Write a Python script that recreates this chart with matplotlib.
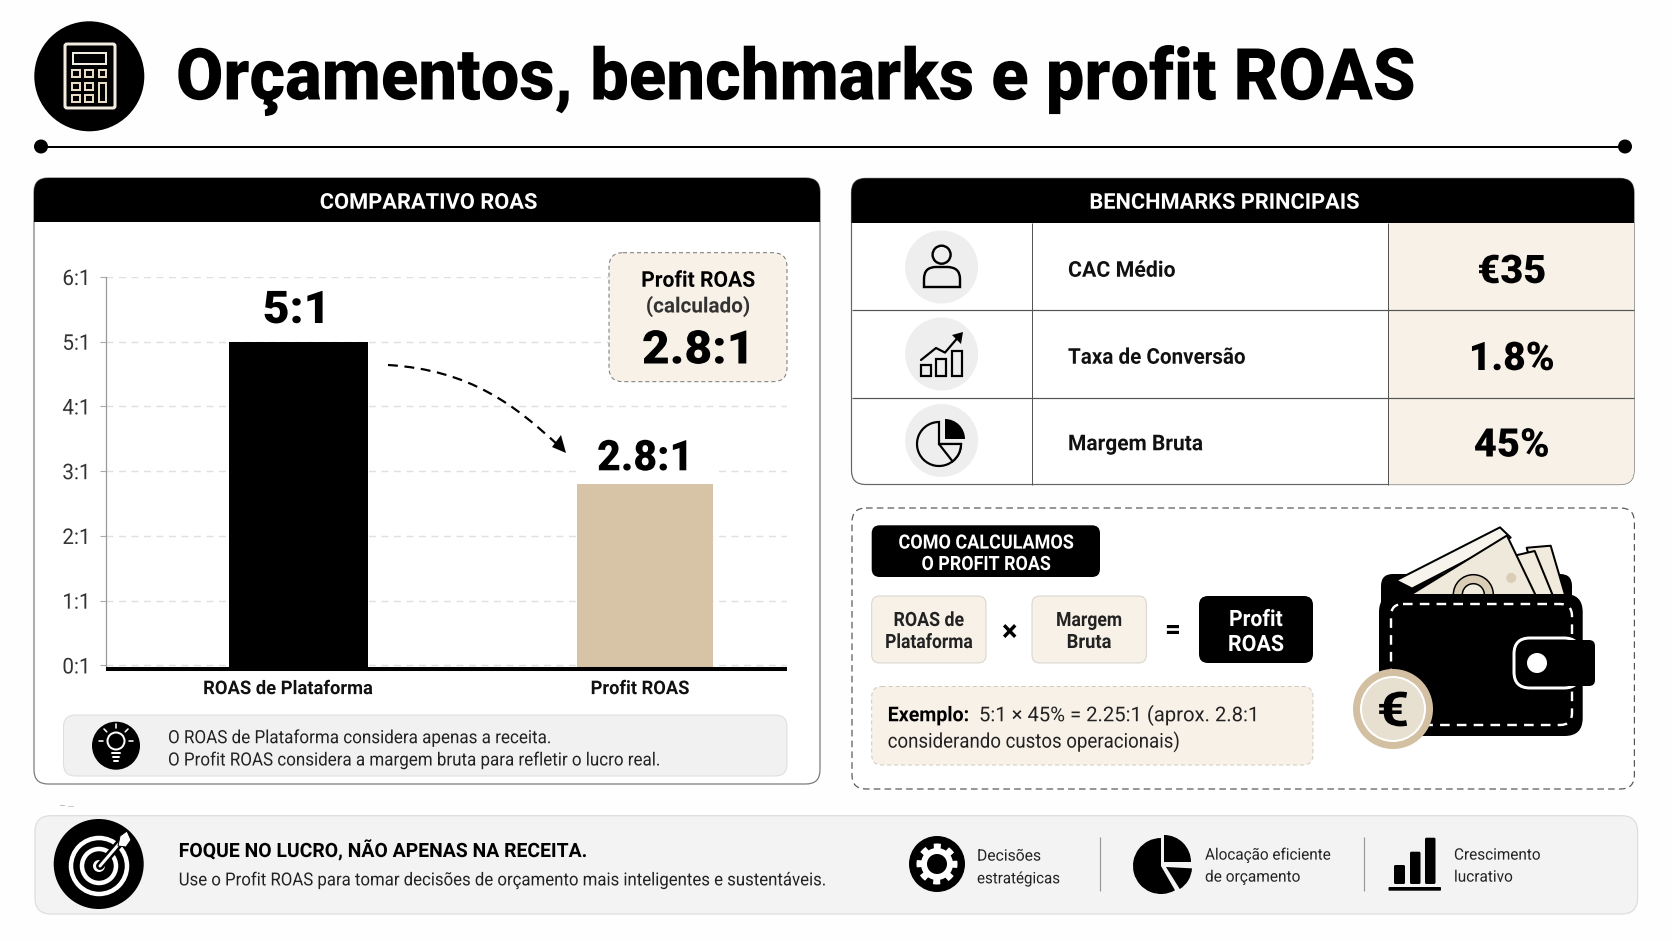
import numpy as np
import matplotlib
matplotlib.use("Agg")
import matplotlib.pyplot as plt
from matplotlib.patches import FancyBboxPatch, Rectangle, Circle, Wedge, Polygon, PathPatch
from matplotlib.path import Path
from matplotlib.patheffects import AbstractPathEffect
from matplotlib.textpath import TextPath
from matplotlib.font_manager import FontProperties
from matplotlib.transforms import Affine2D, ScaledTranslation

categories = ["ROAS de Plataforma", "Profit ROAS"]
roas_values = [5.0, 2.8]
bar_labels = ["5:1", "2.8:1"]
bar_colors = ["#000000", "#D7C4A6"]
y_ticks = [0, 1, 2, 3, 4, 5, 6]
y_labels = ["0:1", "1:1", "2:1", "3:1", "4:1", "5:1", "6:1"]
bench_labels = ["CAC Médio", "Taxa de Conversão", "Margem Bruta"]
bench_values = ["€35", "1.8%", "45%"]

W, H = 1672, 941
BLK, CREAM, GRAY = "#000000", "#F7F1E8", "#F3F3F3"
FONT = "Roboto"

plt.rcParams["font.family"] = [FONT, "DejaVu Sans"]
fig = plt.figure(figsize=(W / 100, H / 100), dpi=100, facecolor="#FEFEFE")


class Squeeze(AbstractPathEffect):
    """Narrows drawn glyphs around a fixed pixel column; the artist stays text."""

    def __init__(self, sx, x_px):
        super().__init__()
        self.sx, self.x_px = sx, x_px

    def draw_path(self, renderer, gc, tpath, affine, rgbFace=None):
        aff = affine + Affine2D().translate(-self.x_px, 0).scale(self.sx, 1).translate(self.x_px, 0)
        renderer.draw_path(gc, tpath, aff, rgbFace)


def px_axes(z):
    a = fig.add_axes([0, 0, 1, 1], zorder=z)
    a.set_xlim(0, W)
    a.set_ylim(H, 0)
    a.axis("off")
    return a


bg = px_axes(0)
fg = px_axes(5)


def lw(p):
    return p * 0.72


def squeeze_for(s, pt, w, weight):
    fp = FontProperties(family=FONT, weight=weight)
    box = TextPath((0, 0), s, size=100, prop=fp).get_extents()
    return (w * 0.72) / (box.width / 100 * pt)


def fit(a, s, x, y, w, cap, weight="normal", color="k", ha="left", **kw):
    """Text with cap height `cap` px, centred on y, drawn w px wide."""
    pt = cap / 0.711 * 0.72
    t = a.text(x, y + cap / 2, s, fontsize=pt, family=[FONT, "DejaVu Sans"], weight=weight,
               color=color, ha=ha, va="baseline", **kw)
    t.set_path_effects([Squeeze(squeeze_for(s, pt, w, weight), x)])
    return t


def rbox(a, x0, y0, x1, y1, r, fc="none", ec="none", l=1.0, ls="-", z=1):
    p = FancyBboxPatch((x0, y0), x1 - x0, y1 - y0, boxstyle=f"round,pad=0,rounding_size={r}",
                       fc=fc, ec=ec, lw=lw(l), ls=ls, zorder=z)
    a.add_patch(p)
    return p


def line(a, xs, ys, c="k", l=2, z=3, **kw):
    a.plot(xs, ys, color=c, lw=lw(l), zorder=z, solid_capstyle=kw.pop("cap", "round"), **kw)


def circ(a, x, y, r, fc="k", ec="none", l=1, z=3):
    a.add_patch(Circle((x, y), r, fc=fc, ec=ec, lw=lw(l), zorder=z))


DASH = (0, (4, 3))

# ---------- header ----------
circ(bg, 89.3, 76.3, 55)
rbox(bg, 65, 44, 115, 108, 2, fc="k", ec="#F3EDE1", l=3, z=4)
bg.add_patch(Rectangle((72.5, 53), 33, 10.5, fc="k", ec="#F3EDE1", lw=lw(2), zorder=5))
for kx in (72, 85, 98.7):
    for ky in (70, 83, 95):
        if kx == 98.7 and ky > 70:
            continue
        bg.add_patch(Rectangle((kx, ky), 7.5, 6.5, fc="k", ec="#E8DCC4", lw=lw(2), zorder=5))
bg.add_patch(Rectangle((98.7, 83), 7, 19, fc="k", ec="#E8DCC4", lw=lw(2), zorder=5))
fit(bg, "Orçamentos, benchmarks e profit ROAS", 176, 74, 1235, 51, weight=900)
line(bg, [41, 1625], [146.5, 146.5], l=2)
circ(bg, 41, 146.5, 7)
circ(bg, 1625, 146.5, 7)

# ---------- left panel ----------
left = rbox(bg, 34, 178, 820, 784, 14, fc="white", ec="#777777", l=1.2)
hd = rbox(bg, 34, 178, 820, 260, 14, fc="k", z=2)
hd.set_clip_path(Rectangle((0, 0), W, 222, transform=bg.transData))
fit(bg, "COMPARATIVO ROAS", 428, 201, 216, 15.5, weight="bold", color="white", ha="center", zorder=3)

# chart axes: pixel box converted to figure fractions
ax_l, ax_r, ax_t, ax_b = 106, 786.7, 277, 669
y_floor = -0.055
ax = fig.add_axes([ax_l / W, 1 - ax_b / H, (ax_r - ax_l) / W, (ax_b - ax_t) / H], zorder=2)
ax.patch.set_alpha(0)
xs = np.arange(len(categories))
ax.bar(xs, np.array(roas_values) - y_floor, bottom=y_floor, width=[0.4, 0.393], color=bar_colors, zorder=3)
ax.set_xlim(-0.556, 1.408)
ax.set_ylim(y_floor, 6)
ax.set_yticks(y_ticks, y_labels, fontsize=15.6, color="#333333")
ax.set_xticks(xs, categories, fontsize=13.6, weight="bold", color="#111111")
ax.tick_params(axis="y", length=4.3, width=0.8, color="#AAAAAA", pad=7)
ax.tick_params(axis="x", length=0, pad=8)
for lab in ax.get_yticklabels():
    lab.set_path_effects([Squeeze(0.95, 90)])
for lab, dx, cx, wd in zip(ax.get_xticklabels(), (-10.7, -5.3), (288, 640), (168, 97)):
    lab.set_transform(lab.get_transform() + ScaledTranslation(dx / 100, 0, fig.dpi_scale_trans))
    lab.set_path_effects([Squeeze(squeeze_for(lab.get_text(), 13.6, wd, "bold"), cx)])
ax.grid(axis="y", color="#E0E0E0", lw=1.0, ls=(0, (5, 4)), zorder=0)
ax.set_axisbelow(True)
for s in ("top", "right"):
    ax.spines[s].set_visible(False)
ax.spines["left"].set_color("#999999")
ax.spines["left"].set_linewidth(0.9)
ax.spines["bottom"].set_color("k")
ax.spines["bottom"].set_linewidth(2.9)
ax.spines["bottom"].set_capstyle("butt")
ax.spines["bottom"].set_zorder(4)
# the gridline at 3:1 breaks around the second bar's label
ax.add_patch(Rectangle((578, 465), 137, 11, fc="white", ec="none", transform=bg.transData, zorder=1.5))
label_spec = zip(xs, roas_values, bar_labels, (32.5, 30.5), ((-1.5, 7), (0, 3.5)), (296, 645), (58, 88))
for x, v, t, size, off, cx, wd in label_spec:
    an = ax.annotate(t, (x, v), xytext=off, textcoords="offset points", ha="center", va="bottom",
                     fontsize=size, weight=900, family=[FONT, "DejaVu Sans"], zorder=5)
    an.set_path_effects([Squeeze(squeeze_for(t, size, wd, 900), cx)])

# callout
rbox(fg, 609, 252.7, 787, 381.7, 14, fc=CREAM, ec="#777777", l=1, ls=DASH)
fit(fg, "Profit ROAS", 698, 279, 112, 15.5, weight="bold", ha="center")
fit(fg, "(calculado)", 698, 305, 102, 15, ha="center", weight="bold", color="#333333")
fit(fg, "2.8:1", 698, 347, 103, 33, weight=900, ha="center")

# dashed curve + head
curve = Path([(388, 365), (470, 370), (515, 405), (560, 447)], [Path.MOVETO, Path.CURVE4, Path.CURVE4, Path.CURVE4])
fg.add_patch(PathPatch(curve, fc="none", ec="k", lw=lw(2.2), ls=(0, (4.5, 3))))
fg.add_patch(Polygon([(566, 453), (552, 447), (561, 435)], fc="k", ec="none"))

# note box
rbox(bg, 63.5, 715, 787, 776, 12, fc="#F1F1F1", ec="#DDDDDD", l=1, z=2)
circ(fg, 116, 745.7, 24)
circ(fg, 116, 741, 8.5, fc="none", ec="white", l=2)
line(fg, [112, 120], [753, 753], c="white", l=2)
line(fg, [113, 119], [757, 757], c="white", l=2)
line(fg, [114, 118], [761, 761], c="white", l=2)
for a0 in (180, 225, 270, 315, 0):
    t = np.radians(a0)
    line(fg, [116 + 13 * np.cos(t), 116 + 17 * np.cos(t)], [741 + 13 * np.sin(t), 741 + 17 * np.sin(t)], c="white", l=1.6)
fit(fg, "O ROAS de Plataforma considera apenas a receita.", 168, 736.7, 381, 13, color="#222222")
fit(fg, "O Profit ROAS considera a margem bruta para refletir o lucro real.", 168, 759, 490, 13, color="#222222")
line(bg, [60, 64], [805, 805], c="#BBBBBB", l=1)
line(bg, [68, 73], [806, 806], c="#CCCCCC", l=1)

# ---------- table ----------
table = rbox(bg, 851.5, 178.4, 1634, 484.5, 14, fc="white", ec="#666666", l=1.2)
vcell = Rectangle((1388, 223), 246, 262, fc=CREAM, ec="none", zorder=1.5)
bg.add_patch(vcell)
vcell.set_clip_path(table)
hd2 = rbox(bg, 851.5, 178.4, 1634, 260, 14, fc="k", z=2)
hd2.set_clip_path(Rectangle((0, 0), W, 223, transform=bg.transData))
fit(bg, "BENCHMARKS PRINCIPAIS", 1224, 201, 268, 15.5, weight="bold", color="white", ha="center", zorder=3)
for y in (310, 397.6):
    line(bg, [851.5, 1634], [y, y], c="#555555", l=1.2, z=2.5, cap="butt")
for x in (1032, 1388):
    line(bg, [x, x], [223, 484.5], c="#555555", l=1.0, z=2.5, cap="butt")
row_y = [269, 356, 442.5]
lab_w = [106, 176.5, 133]
val_w = [65.6, 81, 73]
for y, t, lw_, v, vw in zip(row_y, bench_labels, lab_w, bench_values, val_w):
    circ(bg, 941.6, y - 2, 36.5, fc="#EEEEEE", z=2.6)
    fit(bg, t, 1068, y, lw_, 15.5, weight="bold", zorder=3, color="#111111")
    fit(bg, v, 1511.7, y, vw, 28, weight=900, ha="center", zorder=3)
# person icon
circ(bg, 941.6, 254.7, 9, fc="none", ec="k", l=2.4, z=4)
body = Path([(924, 287), (924, 279), (924, 267), (936, 267), (947, 267), (960, 267), (960, 279), (960, 287), (924, 287)],
            [Path.MOVETO, Path.LINETO, Path.CURVE3, Path.CURVE3, Path.LINETO, Path.CURVE3, Path.CURVE3, Path.LINETO, Path.CLOSEPOLY])
bg.add_patch(PathPatch(body, fc="none", ec="k", lw=lw(2.4), zorder=4))
# growth icon
for x0, x1, y0 in ((921, 931, 365), (936, 946.4, 359), (951.7, 962, 350.6)):
    bg.add_patch(Rectangle((x0, y0), x1 - x0, 376 - y0, fc="none", ec="k", lw=lw(2.2), zorder=4))
line(bg, [921, 936, 945, 960], [360, 348, 352.6, 335], l=2.2, z=4)
bg.add_patch(Polygon([(963, 332), (952, 335), (961, 344)], fc="k", zorder=4))
# pie outline icon
bg.add_patch(Wedge((939, 444), 22, 0, 270, fc="none", ec="k", lw=lw(2.2), zorder=4))
bg.add_patch(Wedge((945, 439), 20, 270, 360, fc="k", ec="none", zorder=5))
bg.add_patch(Wedge((939, 444), 22, 0, 52, fc="#EEEEEE", ec="k", lw=lw(2.2), zorder=4))

# ---------- formula box ----------
rbox(bg, 852, 508, 1634.4, 789, 14, fc="white", ec="#555555", l=1.2, ls=(0, (5.5, 3.5)))
rbox(bg, 871.7, 525.3, 1100, 577, 8, fc="k", z=2)
fit(bg, "COMO CALCULAMOS", 986, 541.6, 174, 14, weight="bold", color="white", ha="center", zorder=3)
fit(bg, "O PROFIT ROAS", 986, 563, 128, 14, weight="bold", color="white", ha="center", zorder=3)
rbox(bg, 871.7, 596, 986, 663, 8, fc=CREAM, ec="#D9D4CB", l=1, z=2)
rbox(bg, 1032, 596, 1146.4, 663, 8, fc=CREAM, ec="#D9D4CB", l=1, z=2)
rbox(bg, 1199, 596, 1313, 663, 9, fc="k", z=2)
fit(bg, "ROAS de", 928.8, 619, 69, 14, weight="bold", ha="center", zorder=3, color="#222222")
fit(bg, "Plataforma", 928.8, 641, 86, 14, weight="bold", ha="center", zorder=3, color="#222222")
fit(bg, "Margem", 1089, 619, 64, 14, weight="bold", ha="center", zorder=3, color="#222222")
fit(bg, "Bruta", 1089, 641, 43, 14, weight="bold", ha="center", zorder=3, color="#222222")
fit(bg, "Profit", 1256, 618, 52, 16, weight="bold", color="white", ha="center", zorder=3)
fit(bg, "ROAS", 1256, 643, 54, 16, weight="bold", color="white", ha="center", zorder=3)
bg.text(1009, 633, "×", fontsize=21, weight="bold", ha="center", va="center", zorder=3)
bg.text(1172.5, 630.6, "=", fontsize=20, weight="bold", ha="center", va="center", zorder=3)
rbox(bg, 871.7, 686.5, 1313, 765, 10, fc=CREAM, ec="#CFCAC0", l=1, ls=DASH, z=2)
fit(bg, "Exemplo:", 887.7, 714, 79, 14.5, weight="bold", zorder=3)
fit(bg, "5:1 × 45% = 2.25:1 (aprox. 2.8:1", 979, 714, 274.6, 14.5, zorder=3, color="#222222")
fit(bg, "considerando custos operacionais)", 887.7, 740.4, 290, 14.5, zorder=3, color="#222222")


# ---------- wallet ----------
def uv(u, v):
    return (836 + u / 1.875, 160 + v / 2.45)


rbox(bg, 1381, 574, 1572, 640, 12, fc="k", z=2)
notes = [
    ([(1295, 950), (1340, 945), (1368, 1070), (1320, 1070)], "#F1EBDD"),
    ([(1270, 970), (1310, 958), (1345, 1070), (1300, 1070)], "#F1EBDD"),
    ([(1050, 1030), (1245, 900), (1265, 925), (1080, 1050)], "#F7F4EC"),
    ([(1065, 1075), (1258, 920), (1315, 1075)], "#EFE9DB"),
]
for pts, col in notes:
    bg.add_patch(Polygon([uv(*p) for p in pts], fc=col, ec="k", lw=lw(2), joinstyle="round", zorder=2.2))
circ(bg, *uv(1195, 1065), 20, fc="#D9CDB5", ec="k", l=1.5, z=2.3)
circ(bg, *uv(1195, 1065), 11, fc="#F1EBDD", ec="k", l=1.5, z=2.35)
circ(bg, *uv(1266, 1024), 5, fc="#D9CDB5", z=2.3)
rbox(bg, 1379, 594, 1582.7, 736, 18, fc="k", z=2.5)
rbox(bg, 1391, 604, 1572, 725, 12, ec="white", l=2.4, ls=(0, (4, 3)), z=2.6)
rbox(bg, 1514, 638, 1580, 688, 16, fc="k", ec="white", l=3, z=2.7)
rbox(bg, 1550, 640, 1595, 686, 6, fc="k", z=2.8)
circ(bg, 1537, 663, 10, fc="white", z=2.9)
circ(bg, 1393, 709, 40, fc="#D3C0A2", z=3)
circ(bg, 1393, 709, 32, fc="#E7DFD0", ec="white", l=2, z=3.1)
fit(bg, "€", 1393, 709, 28, 34, weight="bold", ha="center", zorder=3.2)

# ---------- bottom banner ----------
rbox(bg, 35, 815.7, 1637.6, 914, 16, fc=GRAY, ec="#DDDDDD", l=1.2, z=1)
circ(bg, 98.7, 864, 45)
for r in (28, 17):
    circ(bg, 99, 866, r, fc="none", ec="white", l=4.5, z=3.2)
circ(bg, 99, 866, 6, fc="white", z=3.3)
line(bg, [100, 124], [866, 838], c="k", l=8, z=3.4)
line(bg, [100, 124], [866, 838], c="white", l=3, z=3.5)
bg.add_patch(Polygon([(118, 846), (120, 836), (127, 831), (131, 840), (126, 847)], fc="white", ec="k", lw=lw(1), zorder=3.6))
fit(bg, "FOQUE NO LUCRO, NÃO APENAS NA RECEITA.", 178.7, 850, 406, 14, weight="bold", zorder=3)
fit(bg, "Use o Profit ROAS para tomar decisões de orçamento mais inteligentes e sustentáveis.", 178.7, 879, 645, 12.8, zorder=3, color="#222222")
# gear
circ(bg, 937, 864, 28)
ang = np.linspace(0, 2 * np.pi, 8 * 24, endpoint=False)
rad = 16 + 4.5 * (np.cos(8 * ang) > 0.0)
bg.add_patch(Polygon(np.c_[937 + rad * np.cos(ang), 864 + rad * np.sin(ang)], fc="white", zorder=3.2))
circ(bg, 937, 864, 10, z=3.3)
fit(bg, "Decisões", 977, 855, 62, 11.3, zorder=3, color="#222222")
fit(bg, "estratégicas", 977, 877.7, 81.6, 11.3, zorder=3, color="#222222")
line(bg, [1100, 1100], [837, 891], c="#999999", l=1.2, cap="butt")
# pie
pie_kw = dict(fc="k", ec="none", zorder=3)
bg.add_patch(Wedge((1161, 866), 28, 60, 270, **pie_kw))
bg.add_patch(Wedge((1164, 862), 27, 270, 360, **pie_kw))
bg.add_patch(Wedge((1166, 867), 26, 3, 58, **pie_kw))
fit(bg, "Alocação eficiente", 1205, 854, 125, 11.3, zorder=3, color="#222222")
fit(bg, "de orçamento", 1205, 876, 94, 11.3, zorder=3, color="#222222")
line(bg, [1363.5, 1363.5], [837, 891], c="#999999", l=1.2, cap="butt")
for x0, x1, y0 in ((1394, 1405, 865), (1410, 1420.5, 851.7), (1425, 1435.5, 837.7)):
    rbox(bg, x0, y0, x1, 884, 1.5, fc="k", z=3)
rbox(bg, 1388.5, 887, 1441, 890.7, 1, fc="k", z=3)
fit(bg, "Crescimento", 1454, 854, 85, 11.3, zorder=3, color="#222222")
fit(bg, "lucrativo", 1454, 876, 57, 11.3, zorder=3, color="#222222")

fig.savefig("out.png", dpi=100, facecolor=fig.get_facecolor())
